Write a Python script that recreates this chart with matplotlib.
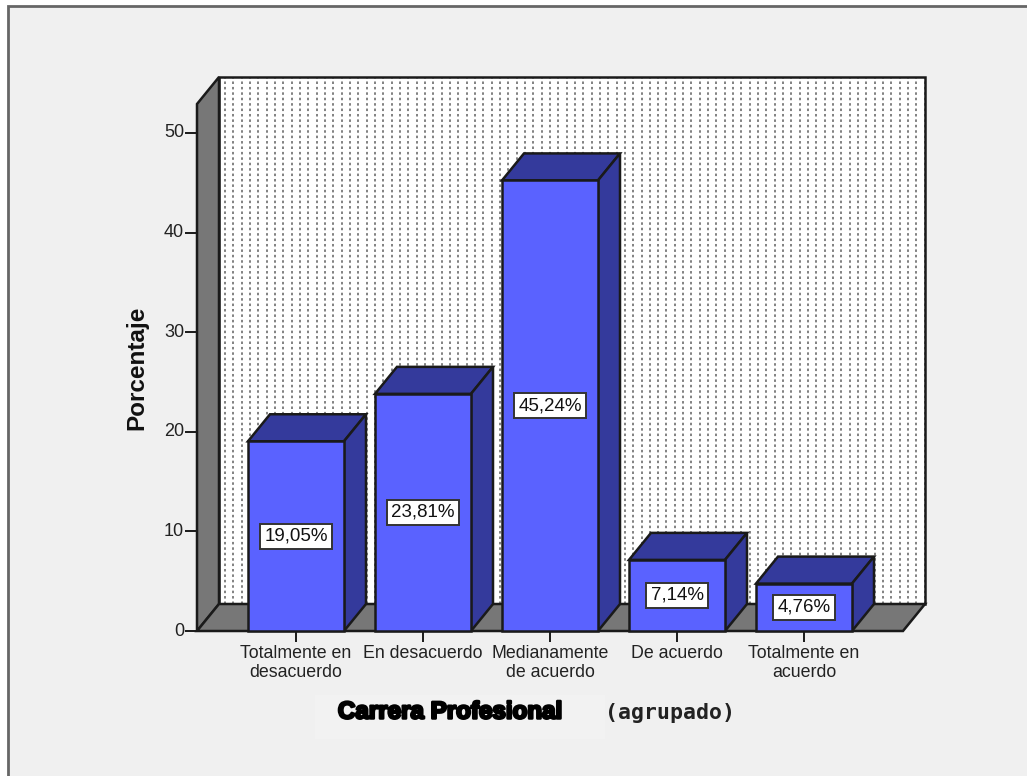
import numpy as np
from matplotlib import pyplot as plt
from matplotlib import patheffects as pe
from matplotlib.patches import Polygon, Rectangle

categorias = ['Totalmente en\ndesacuerdo', 'En desacuerdo', 'Medianamente\nde acuerdo', 'De acuerdo', 'Totalmente en\nacuerdo']
porcentajes = [19.05, 23.81, 45.24, 7.14, 4.76]
etiquetas = ['19,05%', '23,81%', '45,24%', '7,14%', '4,76%']
yticks = [0, 10, 20, 30, 40, 50]

W, H = 1027, 776
# pixel scale of the chart
x0_px, x_step = 296, 127
y0_px, y_step = 631, 9.96
dx = 22 / x_step
dy = 27 / y_step
bar_w = 96 / x_step
x_left = (197 - x0_px) / x_step
x_right = (903 - x0_px) / x_step
y_top = 50 + (133 - 104) / y_step

azul = '#5a62ff'
azul_osc = '#343a9c'
gris = '#777777'
borde = '#1a1a1a'

fig = plt.figure(figsize=(W / 100, H / 100), dpi=100, facecolor='white')
ax = fig.add_axes([0, 0, 1, 1])
ax.set_xlim(-x0_px / x_step, (W - x0_px) / x_step)
ax.set_ylim((y0_px - H) / y_step, y0_px / y_step)
ax.axis('off')


def poly(pts, color, z, lw=1.8):
    ax.add_patch(Polygon(pts, closed=True, facecolor=color, edgecolor=borde, linewidth=lw, zorder=z, joinstyle='miter'))


# outer frame
px = 1 / x_step
py = 1 / y_step
ax.add_patch(Rectangle((ax.get_xlim()[0] + 8 * px, ax.get_ylim()[0] - 5 * py), (W + 5) * px, (H - 1) * py,
                       facecolor='#f0f0f0', edgecolor='#666666', linewidth=2, zorder=0))

# back wall with stipple
ax.add_patch(Rectangle((x_left + dx, dy), x_right - x_left, y_top, facecolor='white', edgecolor='none', zorder=1))
xs = np.arange(x_left + dx + 6 * px, x_right + dx, 8.33 * px)
ax.vlines(xs, dy, y_top + dy, color='#777777', linewidth=1.3, linestyles=(0, (1.4, 1.6)), zorder=1.5)
ax.add_patch(Rectangle((x_left + dx, dy), x_right - x_left, y_top, facecolor='none', edgecolor=borde, linewidth=1.8, zorder=2))

# left wall and floor
poly([(x_left, 0), (x_left + dx, dy), (x_left + dx, y_top + dy), (x_left, y_top)], gris, 3)
poly([(x_left, 0), (x_right, 0), (x_right + dx, dy), (x_left + dx, dy)], gris, 3)

# bars
for i, v in enumerate(porcentajes):
    l = i - bar_w / 2
    r = i + bar_w / 2
    z = 4 + i
    ax.bar(i, v, width=bar_w, color=azul, edgecolor=borde, linewidth=1.8, zorder=z + 0.2)
    poly([(l, v), (r, v), (r + dx, v + dy), (l + dx, v + dy)], azul_osc, z)
    poly([(r, 0), (r + dx, dy), (r + dx, v + dy), (r, v)], azul_osc, z)
    ax.text(i, v / 2, etiquetas[i], ha='center', va='center', fontsize=13.5, family='Liberation Sans', color='#111111', zorder=z + 0.5,
            bbox=dict(boxstyle='square,pad=0.22', facecolor='white', edgecolor='#333333', linewidth=1.4))

# axes lines and ticks
for t in yticks:
    ax.plot([x_left - 12 * px, x_left], [t, t], color=borde, linewidth=1.4, zorder=3, solid_capstyle='butt')
    ax.text(x_left - 13 * px, t, str(t), ha='right', va='center', fontsize=13, family='Liberation Sans', color='#222222')
for i, c in enumerate(categorias):
    ax.plot([i, i], [0, -11 * py], color=borde, linewidth=1.4, zorder=3, solid_capstyle='butt')
    ax.text(i, -13.5 * py, c, ha='center', va='top', fontsize=12.8, family='Liberation Sans', color='#222222', linespacing=1.2)

ax.text((137 - x0_px) * px, (y0_px - 368) * py, 'Porcentaje', rotation=90, ha='center', va='center', fontsize=17.5,
        fontweight='bold', family='Liberation Sans', color='#111111')

# axis title, pasted on a lighter patch
ax.add_patch(Rectangle(((315 - x0_px) * px, (y0_px - 739) * py), 290 * px, 44 * py, facecolor='#f2f2f2', edgecolor='none', zorder=1))
ax.text((450 - x0_px) * px, (y0_px - 712) * py, 'Carrera Profesional', ha='center', va='center', fontsize=17.4, fontweight='bold',
        family='Liberation Sans', color='black', path_effects=[pe.withStroke(linewidth=1.8, foreground='black')], zorder=2)
ax.text((670 - x0_px) * px, (y0_px - 713) * py, '(agrupado)', ha='center', va='center', fontsize=15.5, fontweight='bold',
        family='DejaVu Sans Mono', color='#222222', zorder=2)

plt.savefig('out.png', dpi=100, facecolor=fig.get_facecolor())
